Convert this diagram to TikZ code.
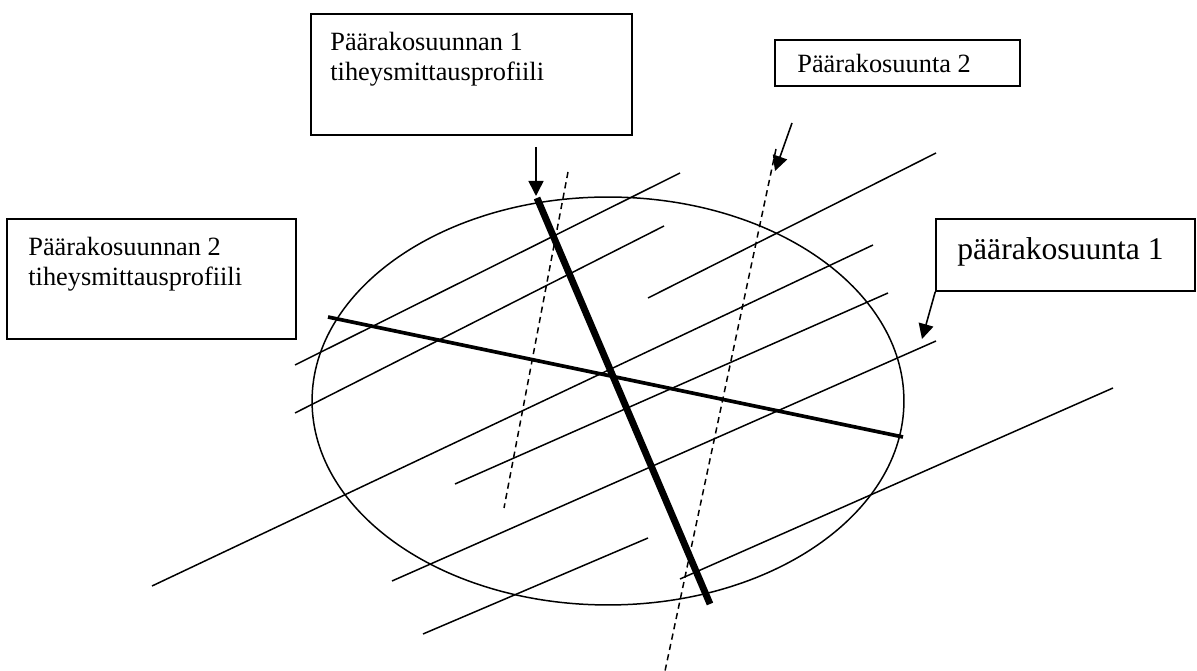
\documentclass[tikz,border=0pt]{standalone}
\usepackage{fontspec}
\setmainfont{Liberation Serif}
\usetikzlibrary{arrows.meta,positioning}

\begin{document}
\begin{tikzpicture}[
    x=0.02cm, y=-0.02cm,
    box/.style={
        draw,
        line width=0.9pt,
        inner sep=0pt
    },
    boxtext/.style={
        inner sep=0pt,
        align=left,
        font=\fontsize{15}{17}\selectfont
    },
    arrow/.style={-{Triangle[length=3mm,width=3mm]}, line width=0.9pt},
    layer/.style={line width=0.85pt},
    profile/.style={line width=3.9pt},
    cross/.style={line width=2.1pt},
    dashline/.style={line width=0.85pt, dash pattern=on 3.5pt off 2.5pt}
]
\useasboundingbox (0,0) rectangle (1197,671);

% boxes
\node[box, minimum width=6.42cm, minimum height=2.42cm] (prof1box) at (471.5,74.5) {};
\node[boxtext, anchor=north west] (prof1txt) at (330,32) {Päärakosuunnan 1\\tiheysmittausprofiili};
\node[box, minimum width=4.9cm, minimum height=0.92cm] (dir2box) at (897.5,63) {};
\node[boxtext, anchor=base west] (dir2txt) at (797,73) {Päärakosuunta 2};
\node[box, minimum width=5.78cm, minimum height=2.4cm] (prof2box) at (151.5,279) {};
\node[boxtext, anchor=north west] (prof2txt) at (28,237) {Päärakosuunnan 2\\tiheysmittausprofiili};
\node[box, minimum width=5.18cm, minimum height=1.44cm] (dir1box) at (1065.5,255) {};
\node[boxtext, anchor=base west, font=\fontsize{18}{21}\selectfont] (dir1txt) at (957,260) {päärakosuunta 1};

% sample plot
\draw[line width=0.85pt] (608,401) ellipse [x radius=5.92cm, y radius=4.08cm];

% layers
\foreach \xa/\ya/\xb/\yb in {295/365/680/173, 295/413/664/226, 648/298/936/153,
    152/586/873/245, 455/484/888/293, 392/581/936/341, 423/634/648/538, 680/579/1113/388}
    \draw[layer] (\xa,\ya) -- (\xb,\yb);

% second direction
\draw[dashline] (568,172) -- (504,508);
\draw[dashline] (776,149) -- (665,671);

% profiles
\coordinate (p1top) at (537,198);
\coordinate (p1end) at (710,604);
\draw[profile] (p1top) -- (p1end);
\coordinate (p2left) at (328,317);
\coordinate (p2right) at (903,437);
\draw[cross] (p2left) -- (p2right);

% pointers
\coordinate (a1start) at (536,147);
\coordinate (a1tip) at (536,196);
\draw[arrow] (a1start) -- (a1tip);
\coordinate (a2start) at (792,123);
\coordinate (a2tip) at (775,171);
\draw[arrow] (a2start) -- (a2tip);
\coordinate (a3tip) at (922,339);
\draw[arrow] (dir1box.south west) -- (a3tip);
\end{tikzpicture}
\end{document}
